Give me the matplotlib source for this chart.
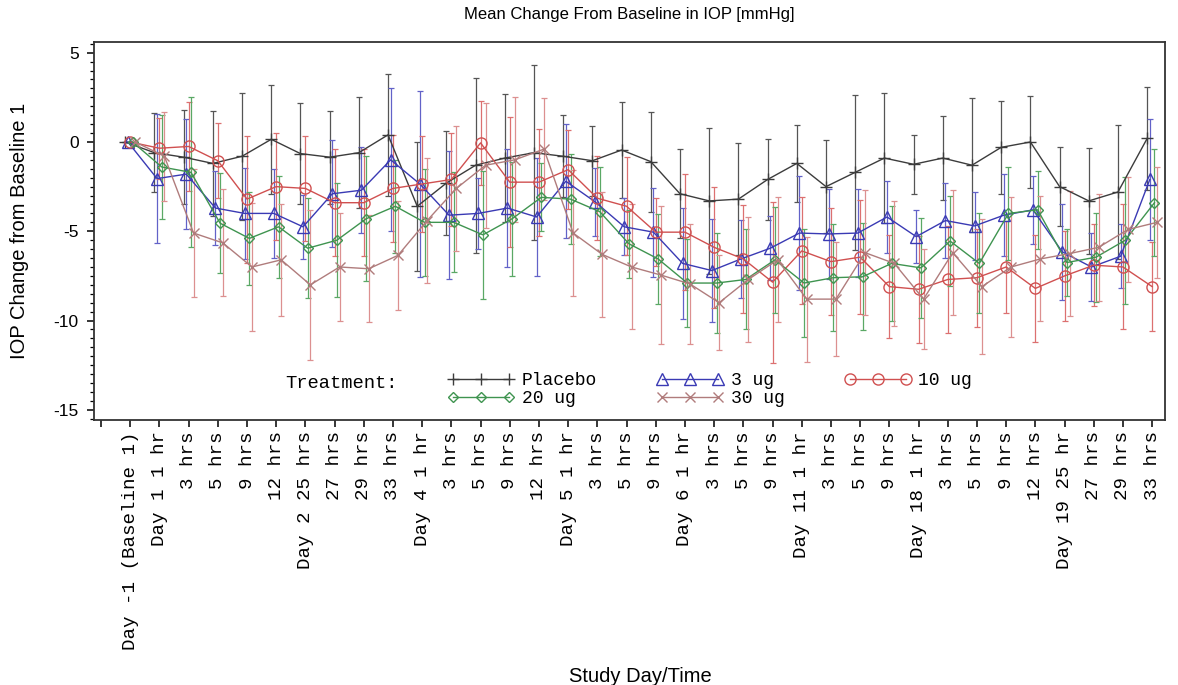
import matplotlib
matplotlib.use("Agg")
import matplotlib.pyplot as plt
from matplotlib.ticker import MultipleLocator
import numpy as np

# x-axis categories (study day / time)
labels = ["Day -1 (Baseline 1)", "Day 1 1 hr", "3 hrs", "5 hrs", "9 hrs", "12 hrs",
          "Day 2 25 hrs", "27 hrs", "29 hrs", "33 hrs",
          "Day 4 1 hr", "3 hrs", "5 hrs", "9 hrs", "12 hrs",
          "Day 5 1 hr", "3 hrs", "5 hrs", "9 hrs",
          "Day 6 1 hr", "3 hrs", "5 hrs", "9 hrs",
          "Day 11 1 hr", "3 hrs", "5 hrs", "9 hrs",
          "Day 18 1 hr", "3 hrs", "5 hrs", "9 hrs", "12 hrs",
          "Day 19 25 hr", "27 hrs", "29 hrs", "33 hrs"]

# mean change from baseline and error half-widths
placebo = [0, -0.6, -0.85, -1.2, -0.8, 0.15, -0.65, -0.85, -0.6, 0.4, -3.6, -2.3,
           -1.3, -0.9, -0.6, -0.8, -1.05, -0.45, -1.1, -2.9, -3.3, -3.2, -2.1, -1.2,
           -2.5, -1.7, -0.9, -1.25, -0.9, -1.3, -0.3, 0.0, -2.5, -3.3, -2.8, 0.2]
placebo_err = [0, 2.2, 2.65, 2.95, 3.55, 3.05, 2.85, 2.6, 3.1, 3.4, 3.6, 2.9,
               4.9, 3.6, 4.9, 2.3, 1.95, 2.7, 2.8, 2.5, 4.1, 3.15, 2.25, 2.15,
               2.6, 4.35, 3.65, 1.65, 2.35, 3.75, 2.6, 2.6, 2.2, 2.95, 3.75, 2.9]

ug3 = [0, -2.05, -1.8, -3.7, -4.0, -4.0, -4.75, -2.9, -2.7, -1.0, -2.35, -4.1,
       -4.0, -3.7, -4.2, -2.2, -3.35, -4.75, -5.05, -6.8, -7.2, -6.55, -5.95, -5.1,
       -5.15, -5.1, -4.2, -5.3, -4.4, -4.7, -4.1, -3.8, -6.15, -7.0, -6.4, -2.1]
ug3_err = [0, 3.6, 3.1, 2.05, 2.55, 2.5, 1.8, 3.0, 2.4, 4.0, 5.2, 3.6,
           2.0, 3.3, 3.3, 3.2, 1.9, 1.6, 2.5, 3.1, 2.9, 2.2, 1.8, 3.2,
           2.5, 2.45, 2.0, 1.5, 2.1, 1.9, 2.3, 1.9, 2.7, 1.9, 1.8, 3.4]

ug10 = [0, -0.35, -0.25, -1.05, -3.2, -2.5, -2.6, -3.4, -3.4, -2.6, -2.35, -2.1,
        -0.05, -2.25, -2.25, -1.55, -3.15, -3.6, -5.05, -5.05, -5.9, -6.55, -7.85, -6.1,
        -6.7, -6.45, -8.1, -8.25, -7.7, -7.6, -7.0, -8.2, -7.5, -6.9, -7.0, -8.1]
ug10_err = [0, 1.7, 2.5, 2.1, 3.55, 3.0, 2.95, 3.0, 3.0, 3.0, 2.7, 2.6,
            2.35, 3.65, 3.0, 2.2, 2.35, 2.75, 1.9, 3.25, 3.4, 3.0, 4.5, 3.0,
            3.0, 3.2, 2.9, 3.0, 3.0, 2.75, 2.6, 3.0, 2.5, 2.3, 3.5, 2.5]

ug20 = [0, -1.4, -1.7, -4.55, -5.4, -4.75, -5.95, -5.5, -4.3, -3.6, -4.5, -4.5,
        -5.2, -4.3, -3.1, -3.2, -3.9, -5.7, -6.55, -7.9, -7.9, -7.7, -6.6, -7.9,
        -7.6, -7.55, -6.8, -7.05, -5.55, -6.8, -4.0, -3.8, -6.75, -6.45, -5.5, -3.4]
ug20_err = [0, 2.9, 4.2, 2.8, 2.6, 2.85, 2.8, 3.2, 3.5, 2.6, 3.0, 2.8,
            3.6, 3.2, 1.9, 2.5, 2.5, 1.9, 2.5, 2.45, 2.8, 2.8, 2.95, 3.0,
            3.0, 3.0, 3.2, 2.8, 2.5, 2.8, 2.6, 2.2, 1.9, 2.5, 3.55, 3.0]

ug30 = [0, -0.8, -5.1, -5.65, -7.0, -6.6, -8.0, -7.0, -7.1, -6.35, -4.4, -2.6,
        -1.3, -1.0, -0.4, -5.1, -6.3, -7.0, -7.45, -7.95, -9.0, -7.7, -6.6, -8.8,
        -8.8, -6.2, -6.8, -8.8, -6.2, -8.1, -7.0, -6.55, -6.25, -5.9, -4.9, -4.5]
ug30_err = [0, 2.5, 3.6, 3.0, 3.6, 3.15, 4.2, 3.0, 3.0, 3.05, 3.5, 3.5,
            3.5, 3.5, 2.85, 3.55, 3.5, 3.5, 3.85, 3.35, 2.65, 3.5, 3.5, 3.5,
            3.2, 3.5, 3.5, 2.8, 3.5, 3.8, 3.9, 3.5, 3.5, 3.0, 2.95, 3.1]

series = [
    # name, means, errors, marker, line colour, bar colour, marker size, x shift
    ("Placebo", placebo, placebo_err, "+", "#3c3c3c", "#555555", 8, -0.17),
    ("3 ug", ug3, ug3_err, "^", "#3a3ab4", "#6262c8", 8, -0.08),
    ("10 ug", ug10, ug10_err, "o", "#d05050", "#dc7070", 8, 0.0),
    ("20 ug", ug20, ug20_err, "D", "#3f9450", "#5aa865", 5.5, 0.08),
    ("30 ug", ug30, ug30_err, "x", "#b07c7c", "#dc9090", 6.5, 0.17),
]

plt.rcParams["font.family"] = ["Liberation Sans", "DejaVu Sans"]
plt.rcParams["axes.unicode_minus"] = False

fig = plt.figure(figsize=(11.78, 6.85), dpi=100)
ax = fig.add_axes([94 / 1178, 1 - 420 / 685, (1165 - 94) / 1178, (420 - 42) / 685])

pos = np.arange(1, len(labels) + 1)
handles = {}
for name, mean, err, mk, lc, bc, ms, dx in series:
    ax.errorbar(pos + dx, mean, yerr=err, fmt="none", ecolor=bc, elinewidth=0.9,
                capsize=2, capthick=0.9, zorder=2)
    h, = ax.plot(pos + dx, mean, color=lc, lw=1.0, marker=mk, ms=ms,
                 mfc="none", mec=lc, mew=1.0, zorder=3)
    handles[name] = h

ax.set_xlim(-0.24, 36.44)
ax.set_ylim(-15.57, 5.6)
ax.set_xticks(np.arange(0, len(labels) + 1))
ax.set_xticklabels([""] + labels, rotation=90, family="Liberation Mono", fontsize=13.8)
ax.set_yticks([5, 0, -5, -10, -15])
ax.yaxis.set_minor_locator(MultipleLocator(0.5))
ax.tick_params(axis="x", length=5, width=1.1, pad=3)
ax.tick_params(axis="y", which="major", length=5, width=1.1, pad=6, labelsize=12.5)
ax.tick_params(axis="y", which="minor", length=3, width=0.9)
for sp in ax.spines.values():
    sp.set_linewidth(1.3)
    sp.set_color("#333333")

fig.text(629 / 1178, 1 - 14 / 685, "Mean Change From Baseline in IOP [mmHg]",
         ha="center", va="center", fontsize=12)
fig.text(20 / 1178, 1 - 231 / 685, "IOP Change from Baseline 1", rotation=90,
         ha="center", va="center", fontsize=14.5)
fig.text(640 / 1178, 1 - 677 / 685, "Study Day/Time", ha="center", va="center",
         fontsize=14.5)

fig.text(285 / 1178, 1 - 383 / 685, "Treatment:", ha="left", va="center",
         family="Liberation Mono", fontsize=13.5)
order = ["Placebo", "20 ug", "3 ug", "30 ug", "10 ug"]
leg = ax.legend([handles[n] for n in order], order, ncol=3, frameon=False,
                loc="upper left", bbox_to_anchor=(448 / 1178, 1 - 372 / 685),
                bbox_transform=fig.transFigure, borderpad=0, borderaxespad=0,
                numpoints=3, handlelength=3.7, handletextpad=0.4,
                columnspacing=3.3, labelspacing=0.05,
                prop={"family": "Liberation Mono", "size": 13})

fig.savefig("out.png", dpi=100)
